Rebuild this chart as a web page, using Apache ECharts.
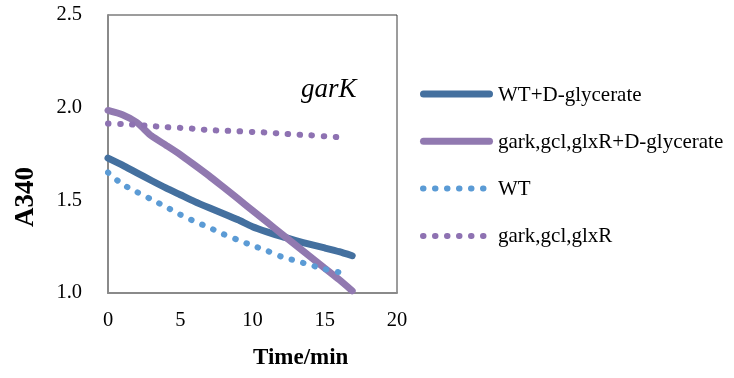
<!DOCTYPE html>
<html>
<head>
<meta charset="utf-8">
<script src="https://cdn.jsdelivr.net/npm/echarts@6/dist/echarts.min.js"></script>
<style>
  html, body { margin: 0; padding: 0; background: #fff; }
  #chart { width: 734px; height: 378px; }
</style>
</head>
<body>
<div id="chart"></div>
<script>
// Absorbance at 340 nm over time for each strain / substrate condition
var timeSolid = [0, 1, 2, 3, 4, 5, 6, 7, 8, 9, 10, 11, 12, 13, 14, 15, 16, 16.9];
var timeDotted = [0, 1, 2, 3, 4, 5, 6, 7, 8, 9, 10, 11, 12, 13, 14, 15, 16];

var wtGlycerate = [1.728, 1.690, 1.648, 1.607, 1.567, 1.530, 1.493, 1.460, 1.428, 1.395, 1.358, 1.330, 1.305, 1.283, 1.262, 1.243, 1.223, 1.201];
var mutantGlycerate = [1.985, 1.962, 1.920, 1.848, 1.798, 1.747, 1.690, 1.632, 1.570, 1.508, 1.445, 1.383, 1.320, 1.258, 1.196, 1.134, 1.072, 1.012];
var wtControl = [1.650, 1.586, 1.545, 1.505, 1.465, 1.423, 1.386, 1.353, 1.317, 1.286, 1.256, 1.228, 1.196, 1.174, 1.151, 1.129, 1.112];
var mutantControl = [1.914, 1.912, 1.907, 1.901, 1.895, 1.891, 1.886, 1.879, 1.876, 1.873, 1.869, 1.866, 1.860, 1.855, 1.851, 1.845, 1.841];

var seriesNames = ['WT+D-glycerate', 'gark,gcl,glxR+D-glycerate', 'WT', 'gark,gcl,glxR'];
var xTicks = [0, 5, 10, 15, 20];
var yTicks = [1.0, 1.5, 2.0, 2.5];

function pairs(xs, ys) {
  return ys.map(function (v, i) { return [xs[i], v]; });
}

var serif = 'Liberation Serif';
var dotPattern = [0.5, 11.5];

var styles = [
  { color: '#44709f', width: 7, type: 'solid', cap: 'round', join: 'round' },
  { color: '#9179b0', width: 7, type: 'solid', cap: 'round', join: 'round' },
  { color: '#5b9bd5', width: 6, type: dotPattern, cap: 'round' },
  { color: '#8e72b2', width: 6, type: dotPattern, cap: 'round' }
];

// Legend drawn as a vertical key to the right of the plot
var legendTop = 94, legendStep = 47.3;
var legendGraphics = [];
seriesNames.forEach(function (name, i) {
  var y = legendTop + i * legendStep;
  var s = styles[i];
  var dotted = s.type !== 'solid';
  legendGraphics.push({
    type: 'line',
    shape: { x1: dotted ? 423 : 423.5, y1: y, x2: dotted ? 484 : 489.5, y2: y },
    style: { stroke: s.color, lineWidth: s.width, lineCap: 'round', lineDash: dotted ? dotPattern : null }
  });
  legendGraphics.push({
    type: 'text', x: 498, y: y + 1,
    style: { text: name, fontFamily: serif, fontSize: 21, fill: '#000', verticalAlign: 'middle', align: 'left' }
  });
});

var chart = echarts.init(document.getElementById('chart'), null, { renderer: 'canvas' });

chart.setOption({
  animation: false,
  backgroundColor: '#ffffff',
  grid: {
    left: 108, right: 337, top: 15, bottom: 85,
    show: true, borderColor: '#3a3a3a', borderWidth: 1, backgroundColor: 'transparent'
  },
  xAxis: {
    type: 'value',
    min: xTicks[0], max: xTicks[xTicks.length - 1], interval: 5,
    axisLine: { show: true, onZero: false, lineStyle: { color: '#8a8a8a', width: 2 } },
    axisTick: { show: false },
    splitLine: { show: false },
    axisLabel: { margin: 17, color: '#000', fontFamily: serif, fontSize: 20.5 }
  },
  yAxis: {
    type: 'value',
    min: yTicks[0], max: yTicks[yTicks.length - 1], interval: 0.5,
    axisLine: { show: true, onZero: false, lineStyle: { color: '#8a8a8a', width: 2 } },
    axisTick: { show: false },
    splitLine: { show: false },
    axisLabel: {
      margin: 26, color: '#000', fontFamily: serif, fontSize: 20.5,
      formatter: function (v) { return v.toFixed(1); }
    }
  },
  graphic: [
    {
      type: 'text', left: 301, top: 76,
      style: { text: 'garK', fontFamily: serif, fontStyle: 'italic', fontSize: 27, fill: '#000' }
    },
    {
      type: 'text', left: 253, top: 347,
      style: { text: 'Time/min', fontFamily: serif, fontWeight: 'bold', fontSize: 23, fill: '#000' }
    },
    {
      type: 'text', rotation: Math.PI / 2, x: 13, y: 227,
      style: { text: 'A340', fontFamily: serif, fontWeight: 'bold', fontSize: 27, fill: '#000' }
    }
  ].concat(legendGraphics),
  series: [
    { name: seriesNames[0], type: 'line', data: pairs(timeSolid, wtGlycerate) },
    { name: seriesNames[1], type: 'line', data: pairs(timeSolid, mutantGlycerate) },
    { name: seriesNames[2], type: 'line', data: pairs(timeDotted, wtControl) },
    { name: seriesNames[3], type: 'line', data: pairs(timeDotted, mutantControl) }
  ].map(function (s, i) {
    s.showSymbol = false;
    s.symbol = 'none';
    s.smooth = 0.2;
    s.color = styles[i].color;
    s.lineStyle = styles[i];
    return s;
  })
});
</script>
</body>
</html>
